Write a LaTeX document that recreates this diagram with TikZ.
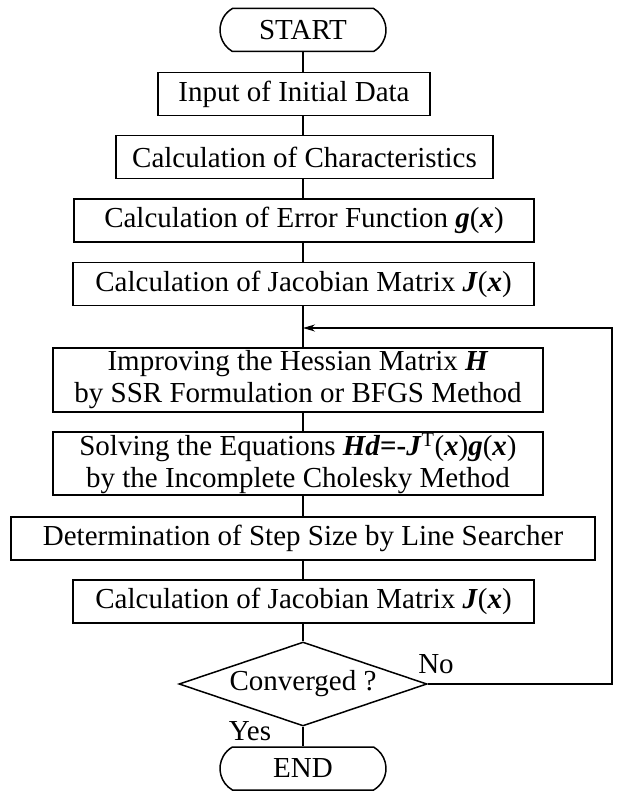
\documentclass[tikz,border=0pt]{standalone}
\usepackage{fontspec}
\setmainfont{Liberation Serif}
\usetikzlibrary{arrows.meta,positioning,shapes.misc,shapes.geometric}
\newcommand{\bvar}[1]{\textbf{\textit{#1}}}

\begin{document}
\begin{tikzpicture}[x=1pt, y=-1pt,
    font=\fontsize{29}{32}\selectfont,
    flowbox/.style={draw, line width=1.5pt, minimum height=43pt, inner sep=0pt, align=center},
    termbox/.style={draw, line width=1.5pt, rounded rectangle, rounded rectangle arc length=120,
                    minimum width=166pt, minimum height=43pt, inner sep=0pt},
    testbox/.style={draw, line width=1.5pt, diamond, aspect=2.95, minimum width=248pt, minimum height=84pt, inner sep=0pt},
    flowline/.style={line width=1.2pt}]
    \useasboundingbox (0,0) rectangle (618,791);
    \fill[white] (0,0) rectangle (618,791);

    % Start and preparation
    \node[termbox] (start) at (303,30) {START};
    \node[flowbox, minimum width=272pt] (input) at (294,94) {Input of Initial Data};
    \node[flowbox, minimum width=377pt] (charac) at (304.5,157) {Calculation of Characteristics};
    \node[flowbox, minimum width=460pt] (error) at (304,220.5) {Calculation of Error Function \bvar{g}(\bvar{x})};
    \node[flowbox, minimum width=461pt] (jacA) at (303.5,284) {Calculation of Jacobian Matrix \bvar{J}(\bvar{x})};

    % Iteration
    \coordinate (loop) at (303,328);
    \node[flowbox, minimum width=490pt, minimum height=64pt] (hess) at (298,380)
        {Improving the Hessian Matrix \bvar{H}\\ by SSR Formulation or BFGS Method};
    \node[flowbox, minimum width=490pt, minimum height=63pt] (solve) at (298,463.5)
        {Solving the Equations \bvar{Hd}\textbf{=-}\bvar{J}\textsuperscript{T}(\bvar{x})\bvar{g}(\bvar{x})\\ by the Incomplete Cholesky Method};
    \node[flowbox, minimum width=584pt] (determ) at (303,538.5) {Determination of Step Size by Line Searcher};
    \node[flowbox, minimum width=461pt] (jacB) at (303.5,601.5) {Calculation of Jacobian Matrix \bvar{J}(\bvar{x})};

    % Test and end
    \node[testbox] (conv) at (303,684) {Converged ?};
    \node[termbox] (stop) at (303,768.5) {END};
    \node (yes) at (250,731) {Yes};
    \node (no) at (436,664) {No};
    \coordinate (ret) at (612,328);

    % Trunk
    \foreach \a/\b in {start/input, input/charac, charac/error, error/jacA, jacA/hess,
                       hess/solve, solve/determ, determ/jacB, jacB/conv, conv/stop}
        \draw[flowline] (\a.south -| start) -- (\b.north -| start);

    % Back to the loop
    \draw[flowline, -{Stealth[length=12pt, width=7pt]}] (conv.east) -| (ret) -- (loop);
\end{tikzpicture}
\end{document}
